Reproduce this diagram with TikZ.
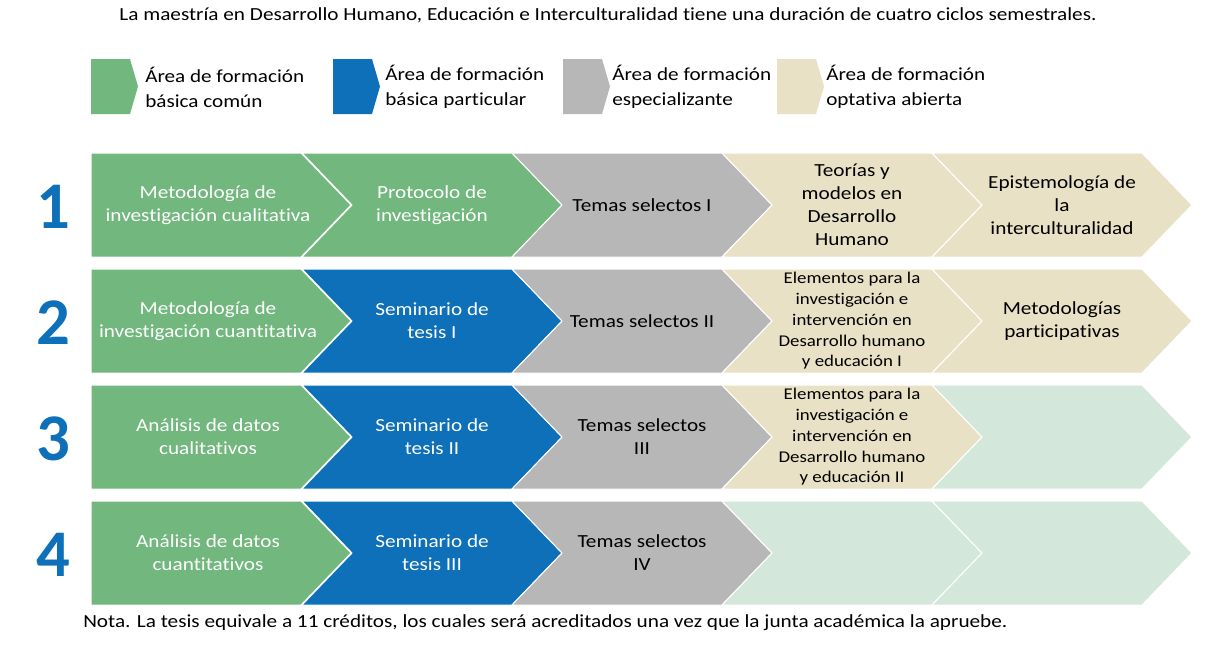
\documentclass[tikz,border=0pt]{standalone}
\usepackage{fontspec}
\setmainfont[FakeStretch=1.15, Ligatures=NoCommon]{Carlito}
\newfontfamily\numfont{Carlito}
\usetikzlibrary{positioning}

\definecolor{comun}{RGB}{113,183,126}
\definecolor{particular}{RGB}{14,112,184}
\definecolor{especial}{RGB}{183,183,183}
\definecolor{optativa}{RGB}{233,225,197}
\definecolor{vacio}{RGB}{211,232,218}

\tikzset{
  chev/.style={draw=white, line width=0.75pt},
  chevtext/.style={align=center, inner sep=0pt, font=\fontsize{13.85}{17.25}\selectfont},
  smalltext/.style={font=\fontsize{12.3}{15.6}\selectfont},
  leytext/.style={anchor=west, align=left, inner sep=0pt, font=\fontsize{13.8}{18.75}\selectfont},
  numero/.style={text=particular, inner sep=0pt, font=\numfont\fontsize{50}{60}\selectfont\bfseries},
  plain/.style={inner sep=0pt, font=\fontsize{13.85}{16}\selectfont}
}

% chevron con muesca: nombre, x, y, relleno, estilo del texto, texto
\newcommand\Chevron[6]{
  \begin{scope}[shift={(#2,#3)}]
    \fill[#4, chev] (0,0) -- (210,0) -- (260,52) -- (210,104) -- (0,104) -- (50,52) -- cycle;
    \node[chevtext, #5] (#1) at (130,52) {#6};
  \end{scope}
}
% primer chevron de la fila (lado izquierdo recto)
\newcommand\Lead[6]{
  \begin{scope}[shift={(#2,#3)}]
    \fill[#4, chev] (0,0) -- (210,0) -- (260,52) -- (210,104) -- (0,104) -- cycle;
    \node[chevtext, #5] (#1) at (117,52) {#6};
  \end{scope}
}
% muestra de la leyenda: nombre, x, x del texto, relleno, texto
\newcommand\Muestra[5]{
  \fill[#4] (#2,59) -- ++(39,0) -- ++(8,27.5) -- ++(-8,27.5) -- ++(-39,0) -- cycle;
  \node[leytext] (#1) at (#3,87) {#5};
}

\begin{document}
\begin{tikzpicture}[x=0.75pt, y=-0.75pt]
  \useasboundingbox (0,0) rectangle (1230,658);

  \node[plain] (titulo) at (608,15) {La maestría en Desarrollo Humano, Educación e Interculturalidad tiene una duración de cuatro ciclos semestrales.};

  % leyenda
  \Muestra{ley1}{91}{145}{comun}{Área de formación\\básica común}
  \Muestra{ley2}{333}{385}{particular}{Área de formación\\básica particular}
  \Muestra{ley3}{563}{612}{especial}{Área de formación\\especializante}
  \Muestra{ley4}{777}{826}{optativa}{Área de formación\\optativa abierta}

  % semestres
  \foreach \n/\y in {1/207,2/323,3/439,4/555}
    \node[numero] (num\n) at (53,\y) {\n};

  % fila 1
  \Lead{c11}{91}{153}{comun}{text=white}{Metodología de\\investigación cualitativa}
  \Chevron{c12}{302}{153}{comun}{text=white}{Protocolo de\\investigación}
  \Chevron{c13}{512}{153}{especial}{text=black}{Temas selectos I}
  \Chevron{c14}{722}{153}{optativa}{text=black}{Teorías y\\modelos en\\Desarrollo\\Humano}
  \Chevron{c15}{932}{153}{optativa}{text=black}{Epistemología de\\la\\interculturalidad}

  % fila 2
  \Lead{c21}{91}{269}{comun}{text=white}{Metodología de\\investigación cuantitativa}
  \Chevron{c22}{302}{269}{particular}{text=white}{Seminario de\\tesis I}
  \Chevron{c23}{512}{269}{especial}{text=black}{Temas selectos II}
  \Chevron{c24}{722}{269}{optativa}{text=black, smalltext}{Elementos para la\\investigación e\\intervención en\\Desarrollo humano\\y educación I}
  \Chevron{c25}{932}{269}{optativa}{text=black}{Metodologías\\participativas}

  % fila 3
  \Lead{c31}{91}{385}{comun}{text=white}{Análisis de datos\\cualitativos}
  \Chevron{c32}{302}{385}{particular}{text=white}{Seminario de\\tesis II}
  \Chevron{c33}{512}{385}{especial}{text=black}{Temas selectos\\III}
  \Chevron{c34}{722}{385}{optativa}{text=black, smalltext}{Elementos para la\\investigación e\\intervención en\\Desarrollo humano\\y educación II}
  \Chevron{c35}{932}{385}{vacio}{}{}

  % fila 4
  \Lead{c41}{91}{501}{comun}{text=white}{Análisis de datos\\cuantitativos}
  \Chevron{c42}{302}{501}{particular}{text=white}{Seminario de\\tesis III}
  \Chevron{c43}{512}{501}{especial}{text=black}{Temas selectos\\IV}
  \Chevron{c44}{722}{501}{vacio}{}{}
  \Chevron{c45}{932}{501}{vacio}{}{}

  \node[plain, anchor=west] (nota) at (83,623) {Nota. La tesis equivale a 11 créditos, los cuales será acreditados una vez que la junta académica la apruebe.};
\end{tikzpicture}
\end{document}
